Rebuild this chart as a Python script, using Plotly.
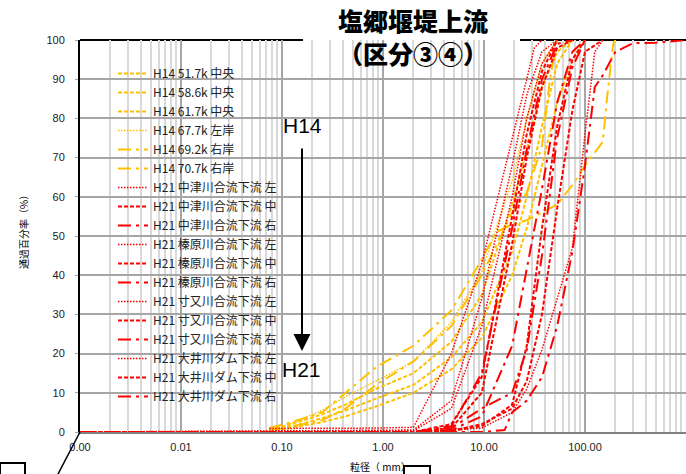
import plotly.graph_objects as go

# ---- grain-size distribution data (particle size in mm, percent passing) ----
h14_517_size = [0.075, 0.106, 0.25, 0.425, 0.85, 2, 4.75, 9.5, 19, 26.5, 37.5, 53, 75]
h14_517_pct = [0.5, 1.0, 3.5, 5.5, 8.5, 12, 19, 28, 46, 60, 78, 94, 100]

h14_586_size = [0.075, 0.106, 0.25, 0.425, 0.85, 2, 4.75, 9.5, 19, 26.5, 37.5, 53, 75]
h14_586_pct = [0.8, 1.5, 4.5, 7, 11, 15, 23, 35, 58, 72, 88, 97, 100]

h14_617_size = [0.075, 0.106, 0.25, 0.425, 0.85, 2, 4.75, 9.5, 19, 26.5, 37.5, 53, 75, 100]
h14_617_pct = [0.3, 0.8, 2.5, 4, 6.5, 10, 16, 24, 40, 52, 68, 84, 95, 100]

h14_677_size = [0.075, 0.106, 0.25, 0.425, 0.85, 2, 4.75, 9.5, 19, 26.5, 37.5, 53]
h14_677_pct = [0.8, 1.5, 5.5, 9, 13, 18, 28, 41, 64, 80, 94, 100]

h14_692_size = [0.075, 0.106, 0.25, 0.425, 0.85, 2, 4.75, 9.5, 13.2, 19, 26.5, 37.5, 53, 75, 100, 150, 165, 190, 200]
h14_692_pct = [1, 2, 5, 10, 16.5, 22, 31, 44, 51, 53, 54, 56, 58, 63, 68, 74, 85, 99, 100]

h14_707_size = [0.075, 0.106, 0.25, 0.425, 0.85, 2, 4.75, 9.5, 19, 26.5, 37.5, 45, 53]
h14_707_pct = [0.5, 1, 3, 6, 12, 18, 27, 40, 56, 61, 73, 90, 100]

h21_naka_l_size = [0.075, 0.106, 0.25, 0.425, 0.85, 2, 4.75, 9.5, 19, 26.5, 31.5, 37.5]
h21_naka_l_pct = [0.9, 0.9, 1, 1, 1, 1.2, 20, 43, 75, 90, 98, 100]
h21_naka_c_size = [0.001, 2, 4.75, 9.5, 19, 26.5, 37.5, 53]
h21_naka_c_pct = [0, 0, 2, 14, 55, 76, 92, 100]
h21_naka_r_size = [0.001, 2, 4.75, 9.5, 19, 26.5, 37.5, 53, 75]
h21_naka_r_pct = [0, 0, 1.5, 15, 52, 72, 90, 99, 100]

h21_hai_l_size = [0.001, 2, 4.75, 9.5, 19, 26.5, 37.5, 53]
h21_hai_l_pct = [0, 0.5, 8, 34, 68, 86, 97, 100]
h21_hai_c_size = [0.001, 2, 4.75, 9.5, 19, 26.5, 37.5, 53, 75]
h21_hai_c_pct = [0, 0, 1, 10, 48, 70, 88, 98, 100]
h21_hai_r_size = [0.001, 2, 4.75, 9.5, 19, 26.5, 37.5, 53, 75, 100]
h21_hai_r_pct = [0, 0, 0.5, 4, 22, 42, 62, 84, 97, 100]

h21_sum_l_size = [0.001, 2, 4.75, 9.5, 19, 26.5, 37.5, 53, 75, 100, 125, 150]
h21_sum_l_pct = [0, 0, 0.5, 1, 5, 11, 21, 34, 47, 76, 97, 100]
h21_sum_c_size = [0.001, 2, 4.75, 9.5, 19, 26.5, 37.5, 53, 75, 100, 150]
h21_sum_c_pct = [0, 0, 0.3, 2, 6, 13, 30, 57, 82, 97, 100]
h21_sum_r_size = [0.001, 2, 4.75, 9.5, 16, 19, 26.5, 37.5, 53, 75, 100, 125, 150, 200, 300, 500, 1000]
h21_sum_r_pct = [0, 0, 0, 0, 0.5, 5, 8, 14, 27, 46, 68, 88, 91, 97, 99.2, 99.3, 100]

h21_oi_l_size = [0.001, 2, 4.75, 9.5, 19, 26.5, 37.5, 53]
h21_oi_l_pct = [0, 0.3, 6, 27, 60, 80, 94, 100]
h21_oi_c_size = [0.001, 2, 4.75, 9.5, 19, 26.5, 37.5, 53, 75, 100]
h21_oi_c_pct = [0, 0, 0.3, 1.5, 7, 22, 52, 78, 95, 100]
h21_oi_r_size = [0.001, 2, 4.75, 9.5, 19, 26.5, 37.5, 53, 75, 100]
h21_oi_r_pct = [0, 0, 1, 6, 10, 21, 45, 75, 93, 100]

x_tickvals = [0.001, 0.01, 0.1, 1, 10, 100, 1000]
x_ticktext = ["0.00", "0.01", "0.10", "1.00", "10.00", "100.00", "1000.00"]
y_tickvals = [0, 10, 20, 30, 40, 50, 60, 70, 80, 90, 100]

ORANGE = "#FFC000"
RED = "#FF0000"
DASH = "4px,2px"
DOT = "1.5px,1.5px"
LDD = "13px,5px,3px,5px"

series = [
    ("H14 51.7k 中央", h14_517_size, h14_517_pct, ORANGE, DASH, 2),
    ("H14 58.6k 中央", h14_586_size, h14_586_pct, ORANGE, DASH, 2),
    ("H14 61.7k 中央", h14_617_size, h14_617_pct, ORANGE, DASH, 2),
    ("H14 67.7k 左岸", h14_677_size, h14_677_pct, ORANGE, DOT, 1.5),
    ("H14 69.2k 右岸", h14_692_size, h14_692_pct, ORANGE, LDD, 2),
    ("H14 70.7k 右岸", h14_707_size, h14_707_pct, ORANGE, LDD, 2),
    ("H21 中津川合流下流 左", h21_naka_l_size, h21_naka_l_pct, RED, DOT, 1.5),
    ("H21 中津川合流下流 中", h21_naka_c_size, h21_naka_c_pct, RED, DASH, 2),
    ("H21 中津川合流下流 右", h21_naka_r_size, h21_naka_r_pct, RED, LDD, 2),
    ("H21 榛原川合流下流 左", h21_hai_l_size, h21_hai_l_pct, RED, DOT, 1.5),
    ("H21 榛原川合流下流 中", h21_hai_c_size, h21_hai_c_pct, RED, DASH, 2),
    ("H21 榛原川合流下流 右", h21_hai_r_size, h21_hai_r_pct, RED, LDD, 2),
    ("H21 寸又川合流下流 左", h21_sum_l_size, h21_sum_l_pct, RED, DOT, 1.5),
    ("H21 寸又川合流下流 中", h21_sum_c_size, h21_sum_c_pct, RED, DASH, 2),
    ("H21 寸又川合流下流 右", h21_sum_r_size, h21_sum_r_pct, RED, LDD, 2),
    ("H21 大井川ダム下流 左", h21_oi_l_size, h21_oi_l_pct, RED, DOT, 1.5),
    ("H21 大井川ダム下流 中", h21_oi_c_size, h21_oi_c_pct, RED, DASH, 2),
    ("H21 大井川ダム下流 右", h21_oi_r_size, h21_oi_r_pct, RED, LDD, 2),
]

fig = go.Figure()
for name, xs, ys, color, dash, w in series:
    fig.add_trace(go.Scatter(
        x=xs, y=ys, mode="lines", name=name,
        line=dict(color=color, dash=dash, width=w),
    ))

W, H = 686, 474
L, R, T, B = 80, 0, 40, 42
PW, PH = W - L - R, H - T - B


def px(xpix):
    return (xpix - L) / PW


def py(ypix):
    return (H - B - ypix) / PH


shapes = [
    # top frame line
    dict(type="line", xref="paper", yref="paper", x0=0, x1=1, y0=1, y1=1,
         line=dict(color="black", width=2), layer="between"),
    # white panel behind the legend
    dict(type="rect", xref="paper", yref="paper", x0=px(108), x1=px(300), y0=py(398), y1=py(58),
         fillcolor="white", line=dict(width=0), layer="between"),
    # white panel behind the title
    dict(type="rect", xref="paper", yref="paper", x0=px(303), x1=px(520), y0=py(81), y1=py(-2),
         fillcolor="white", line=dict(width=0), layer="between"),
    # leftover frame marks at the bottom edge
    dict(type="rect", xref="paper", yref="paper", x0=px(0), x1=px(25), y0=py(480), y1=py(463),
         fillcolor="white", line=dict(color="black", width=2)),
    dict(type="line", xref="paper", yref="paper", x0=px(80), x1=px(57), y0=py(432), y1=py(476),
         line=dict(color="black", width=1.5)),
    dict(type="rect", xref="paper", yref="paper", x0=px(404), x1=px(430), y0=py(480), y1=py(466),
         fillcolor="white", line=dict(color="black", width=2)),
]

annotations = [
    dict(text="塩郷堰堤上流<br>（区分③④）", xref="paper", yref="paper",
         x=px(413), y=py(36), showarrow=False, xanchor="center", yanchor="middle",
         font=dict(family="Noto Sans CJK JP", size=25, color="black", weight=900)),
    dict(text="H14", xref="paper", yref="paper", x=px(302), y=py(125), showarrow=False,
         xanchor="center", yanchor="middle",
         font=dict(family="Liberation Sans", size=21, color="black")),
    dict(text="H21", xref="paper", yref="paper", x=px(301), y=py(369), showarrow=False,
         xanchor="center", yanchor="middle",
         font=dict(family="Liberation Sans", size=21, color="black")),
    dict(text="", xref="paper", yref="paper", x=px(302), y=py(351), ax=0, ay=-204,
         showarrow=True, arrowhead=2, arrowsize=1.7, arrowwidth=2, arrowcolor="black"),
    dict(text="通過百分率（%）", xref="paper", yref="paper", x=px(23), y=py(230),
         textangle=-90, showarrow=False, xanchor="center", yanchor="middle",
         font=dict(family="Noto Sans CJK JP", size=10, color="black")),
    dict(text="粒径（ mm）", xref="paper", yref="paper", x=px(380), y=py(467),
         showarrow=False, xanchor="center", yanchor="middle",
         font=dict(family="Noto Sans CJK JP", size=10, color="black")),
]

fig.update_layout(
    width=W, height=H,
    margin=dict(l=L, r=R, t=T, b=B),
    paper_bgcolor="white", plot_bgcolor="white",
    showlegend=True,
    legend=dict(x=px(113), y=py(59), xanchor="left", yanchor="top",
                bgcolor="rgba(0,0,0,0)", borderwidth=0,
                font=dict(family="Noto Sans CJK JP", size=12, color="#222"),
                itemwidth=30),
    shapes=shapes, annotations=annotations,
    xaxis=dict(type="log", range=[-3, 3], tickvals=x_tickvals, ticktext=x_ticktext,
               showgrid=True, gridcolor="#a6a6a6", gridwidth=1.5,
               minor=dict(dtick="D1", showgrid=True, gridcolor="#d9d9d9", gridwidth=1.5),
               showline=True, linecolor="#808080", linewidth=2, ticks="",
               tickfont=dict(family="Liberation Sans", size=11, color="#222"),
               ticklabelstandoff=4, zeroline=False),
    yaxis=dict(range=[0, 100], tickvals=y_tickvals, showgrid=True,
               gridcolor="#a6a6a6", gridwidth=1.5,
               showline=True, linecolor="black", linewidth=2,
               ticks="outside", ticklen=3, tickcolor="#a6a6a6",
               tickfont=dict(family="Liberation Sans", size=11, color="#222"),
               ticklabelstandoff=8, zeroline=False),
)

fig.write_html("out.html")
